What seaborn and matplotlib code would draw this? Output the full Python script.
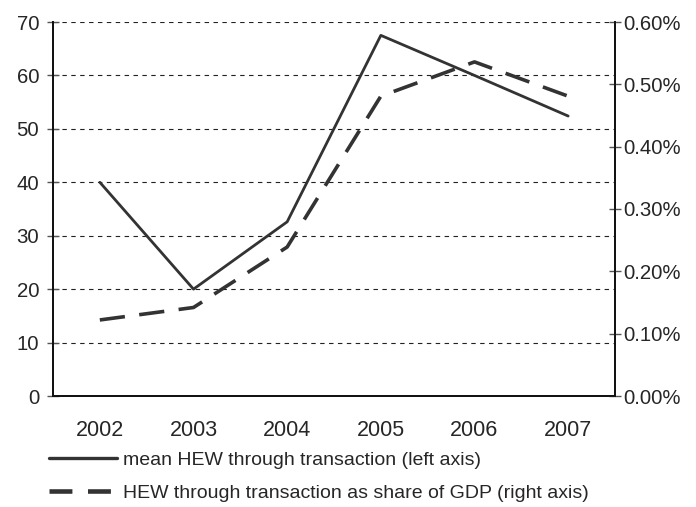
import numpy as np
import pandas as pd
import seaborn as sns
import matplotlib.pyplot as plt
from matplotlib.lines import Line2D

# values
years = ["2002", "2003", "2004", "2005", "2006", "2007"]
mean_hew = [40.0, 20.0, 32.6, 67.5, 60.0, 52.4]          # left axis
hew_share_gdp = [0.122, 0.142, 0.239, 0.481, 0.536, 0.481]  # right axis, percent

left_ticks = [0, 10, 20, 30, 40, 50, 60, 70]
right_ticks = [0.0, 0.1, 0.2, 0.3, 0.4, 0.5, 0.6]

label_left = "mean HEW through transaction (left axis)"
label_right = "HEW through transaction as share of GDP (right axis)"

df = pd.DataFrame({"pos": np.arange(len(years)), "year": years,
                   "mean": mean_hew, "share": hew_share_gdp})

sns.set_theme(style="white")
plt.rcParams["font.family"] = ["Liberation Sans", "DejaVu Sans"]
plt.rcParams.update({"font.size": 15, "xtick.labelsize": 15.5,
                     "ytick.labelsize": 14.7, "legend.fontsize": 14})

col = "#333333"

fig = plt.figure(figsize=(6.96, 5.07), dpi=100)
ax = fig.add_axes([53 / 696, 1 - 396 / 507, (615 - 53) / 696, (396 - 22) / 507])
ax2 = ax.twinx()

sns.lineplot(data=df, x="pos", y="mean", ax=ax, color=col, linewidth=2.0, legend=False)
sns.lineplot(data=df, x="pos", y="share", ax=ax2, color=col, linewidth=2.6,
             dashes=False, legend=False)
ax2.lines[0].set_dashes((7, 4))

# left axis
ax.set_ylim(0, 70)
ax.set_yticks(left_ticks)
ax.set_yticklabels([str(t) for t in left_ticks])
ax.yaxis.grid(True, linestyle=(0, (4, 4)), color="#222222", linewidth=0.8)
ax.xaxis.grid(False)

# categorical x axis: boundary ticks, labels in the middle
ax.set_xlim(-0.5, len(years) - 0.5)
ax.set_xticks(np.arange(len(years) + 1) - 0.5)
ax.set_xticklabels([])
ax.set_xticks(np.arange(len(years)), minor=True)
ax.set_xticklabels(years, minor=True)
ax.tick_params(axis="x", which="minor", length=0, pad=17)
ax.tick_params(axis="x", which="major", direction="inout", length=8, width=1, color="#555555")
ax.tick_params(axis="y", direction="inout", length=8, width=1, color="#555555", pad=6)
ax.set_xlabel("")
ax.set_ylabel("")

# right axis
ax2.set_ylim(0, 0.6)
ax2.set_yticks(right_ticks)
ax2.set_yticklabels([f"{t:.2f}%" for t in right_ticks])
ax2.tick_params(axis="y", direction="inout", length=8, width=1, color="#555555", pad=2)
ax2.set_ylabel("")
ax2.grid(False)

for a in (ax, ax2):
    a.spines["top"].set_visible(False)
    for s in ("left", "right", "bottom"):
        a.spines[s].set_color("#111111")
        a.spines[s].set_linewidth(1.3)
ax.set_zorder(ax2.get_zorder() - 1)
ax2.patch.set_visible(False)

handles = [Line2D([], [], color=col, linewidth=2.4),
           Line2D([], [], color=col, linewidth=3.3, dashes=(5.0, 3.4))]
fig.legend(handles, [label_left, label_right], loc="upper left",
           bbox_to_anchor=(49 / 696, 1 - 451 / 507), frameon=False,
           handlelength=3.5, handletextpad=0.3, labelspacing=0.82,
           borderpad=0, borderaxespad=0)

fig.savefig("out.png", dpi=100)
